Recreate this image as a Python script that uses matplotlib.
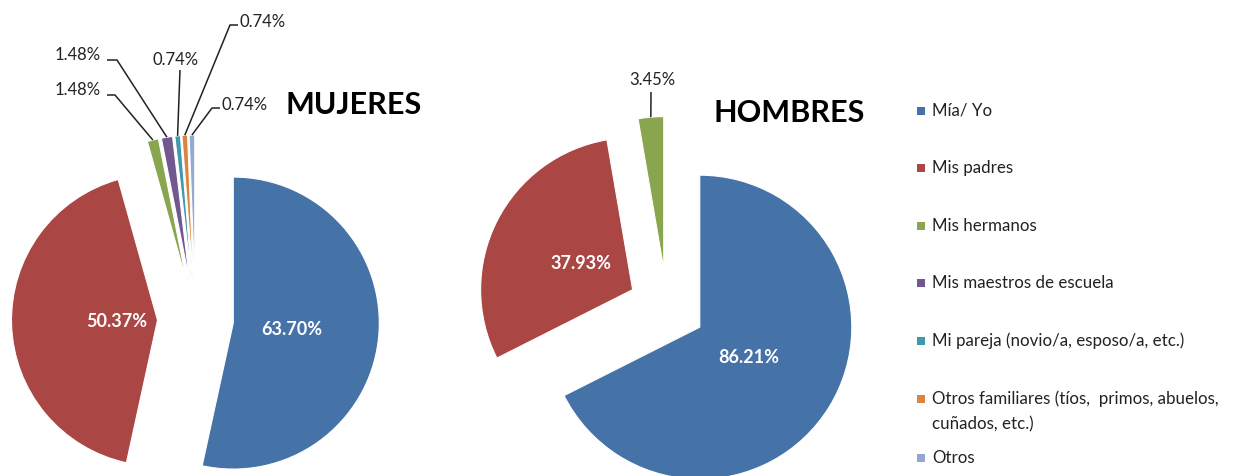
import matplotlib.pyplot as plt
from matplotlib.patches import Rectangle
import numpy as np

plt.rcParams['font.family'] = ['Lato', 'DejaVu Sans']

categorias = ["Mía/ Yo", "Mis padres", "Mis hermanos", "Mis maestros de escuela",
              "Mi pareja (novio/a, esposo/a, etc.)",
              "Otros familiares (tíos,  primos, abuelos,\ncuñados, etc.)", "Otros"]
mujeres = [63.70, 50.37, 1.48, 1.48, 0.74, 0.74, 0.74]
hombres = [86.21, 37.93, 3.45]
colores = ["#4572A7", "#AA4643", "#89A54E", "#71588F", "#4198AF", "#DB843D", "#93A9CF"]

W, H = 1233, 476
fig = plt.figure(figsize=(W / 100, H / 100), dpi=100)
ax = fig.add_axes([0, 0, 1, 1])


def py(p):
    # pixel row -> data y
    return H - p


def pastel(valores, centro, radio, sep):
    wedges, _ = ax.pie(valores, colors=colores[:len(valores)], startangle=90,
                       counterclock=False, center=centro, radius=radio,
                       explode=[sep] * len(valores),
                       wedgeprops=dict(edgecolor="white", linewidth=0.8))
    return wedges


def punto(w, frac):
    t = np.deg2rad((w.theta1 + w.theta2) / 2)
    return w.center[0] + frac * w.r * np.cos(t), w.center[1] + frac * w.r * np.sin(t)


def etiqueta(w, valor, frac):
    x, y = punto(w, frac)
    ax.text(x, y, f"{valor:.2f}%", color="white", fontsize=13, fontweight="bold",
            ha="center", va="center")


def guia(w, valor, texto_xy, ha, codo):
    # leader line from the wedge rim to the label
    x0, y0 = punto(w, 1.0)
    xs = [x0] + [c[0] for c in codo]
    ys = [y0] + [py(c[1]) for c in codo]
    ax.plot(xs, ys, color="#222222", lw=1.1, solid_capstyle="butt")
    ax.text(texto_xy[0], py(texto_xy[1]), f"{valor:.2f}%", fontsize=12,
            color="#222222", ha=ha, va="center")


# MUJERES
wm = pastel(mujeres, (195.5, py(319)), 146, 38)
etiqueta(wm[0], mujeres[0], 0.40)
etiqueta(wm[1], mujeres[1], 0.28)
guia(wm[2], mujeres[2], (101, 90), "right", [(115, 95), (107, 95)])
guia(wm[3], mujeres[3], (101, 55), "right", [(117, 60), (107, 60)])
guia(wm[4], mujeres[4], (176, 60), "center", [(180, 70)])
guia(wm[5], mujeres[5], (240, 22), "left", [(230, 25), (238, 25)])
guia(wm[6], mujeres[6], (222, 105), "left", [(212, 108), (220, 108)])
ax.text(285, py(105), "MUJERES", fontsize=22, fontweight="bold", ha="left", va="center")

# HOMBRES
wh = pastel(hombres, (667, py(307)), 152, 38.5)
etiqueta(wh[0], hombres[0], 0.38)
etiqueta(wh[1], hombres[1], 0.38)
guia(wh[2], hombres[2], (652, 80), "center", [(651, 92)])
ax.text(713, py(113), "HOMBRES", fontsize=22, fontweight="bold", ha="left", va="center")

# leyenda
filas = [111, 168, 226, 283, 341, 399, 458]
for nombre, color, fila in zip(categorias, colores, filas):
    ax.add_patch(Rectangle((917, py(fila) - 4), 8, 8, facecolor=color, edgecolor="none"))
    ax.text(932, py(fila), nombre.split("\n")[0], fontsize=12.2, color="#222222",
            ha="left", va="center")
    if "\n" in nombre:
        ax.text(932, py(fila + 25), nombre.split("\n")[1], fontsize=12.2, color="#222222",
                ha="left", va="center")

ax.set_xlim(0, W)
ax.set_ylim(0, H)
ax.set_aspect("equal")
ax.axis("off")
fig.savefig("out.png", dpi=100)
